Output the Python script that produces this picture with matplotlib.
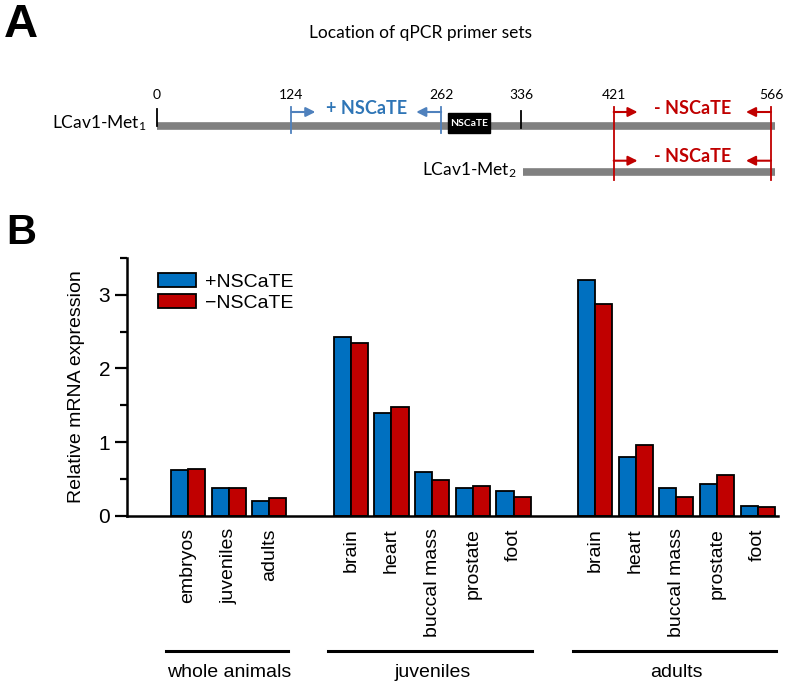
import matplotlib
matplotlib.use("Agg")
import matplotlib.pyplot as plt
from matplotlib.patches import Patch, Rectangle

# ---- panel B data ----
groups = ["whole animals", "juveniles", "adults"]
tissues = [
    ["embryos", "juveniles", "adults"],
    ["brain", "heart", "buccal mass", "prostate", "foot"],
    ["brain", "heart", "buccal mass", "prostate", "foot"],
]
plus_nscate = [
    [0.62, 0.38, 0.20],
    [2.43, 1.40, 0.60, 0.37, 0.34],
    [3.20, 0.80, 0.38, 0.43, 0.13],
]
minus_nscate = [
    [0.64, 0.37, 0.24],
    [2.35, 1.47, 0.48, 0.41, 0.26],
    [2.87, 0.96, 0.26, 0.55, 0.12],
]

# ---- panel A data (base pairs) ----
site_labels = [0, 124, 262, 336, 421, 566]
met1_span = (0, 570)
met2_span = (337, 570)
nscate_box = (268, 307)
plus_primers = (124, 262)
minus_primers = (421, 566)

BLUE = "#0070C0"
RED = "#C00000"
PBLUE = "#4F81BD"
TBLUE = "#2E75B6"
GRAY = "#808080"

plt.rcParams["font.family"] = ["Liberation Sans", "DejaVu Sans"]
plt.rcParams["mathtext.fontset"] = "custom"
plt.rcParams["mathtext.rm"] = "Lato"
plt.rcParams["mathtext.default"] = "regular"

fig = plt.figure(figsize=(7.88, 6.88), dpi=100)

# ================= panel A =================
axA = fig.add_axes([0, 1 - 200 / 688, 1, 200 / 688])
axA.set_xlim(-144.7, 581.7)
axA.set_ylim(200, 0)
axA.axis("off")

row1, row2 = 125.7, 171.7
lato = ["Lato", "DejaVu Sans"]

axA.plot(met1_span, [row1, row1], color=GRAY, lw=5.5, solid_capstyle="butt")
axA.plot(met2_span, [row2, row2], color=GRAY, lw=5.5, solid_capstyle="butt")
axA.plot([0, 0], [109, row1], color="black", lw=1.3)
axA.plot([336, 336], [111, 128], color="black", lw=1.3)

axA.add_patch(Rectangle((nscate_box[0], 113), nscate_box[1] - nscate_box[0], 20,
                        color="black", zorder=3))
axA.text(sum(nscate_box) / 2, 123.5, "NSCaTE", color="white", fontsize=7.5,
         fontweight="bold", ha="center", va="center", family=lato, zorder=4)

for s in site_labels:
    axA.text(s, 95, str(s), fontsize=10, ha="center", va="center", family=lato)


def primer_pair(ax, span, ytop, ybot, rows_y, color, lcolor, label):
    a, b = span
    for x in (a, b):
        ax.plot([x, x], [ytop, ybot], color=lcolor, lw=1.3)
    for y in rows_y:
        ax.annotate("", xy=(a + 22, y), xytext=(a, y),
                    arrowprops=dict(arrowstyle="-|>", color=lcolor, lw=1.5,
                                    mutation_scale=14, shrinkA=0, shrinkB=0))
        ax.annotate("", xy=(b - 23, y), xytext=(b, y),
                    arrowprops=dict(arrowstyle="-|>", color=lcolor, lw=1.5,
                                    mutation_scale=14, shrinkA=0, shrinkB=0))
        ax.text((a + b) / 2, y - 4, label, color=color, fontsize=13,
                fontweight="bold", ha="center", va="center", family=lato)


primer_pair(axA, plus_primers, 107, 133, [112], TBLUE, PBLUE, "+ NSCaTE")
primer_pair(axA, minus_primers, 107, 180, [112, 160.7], RED, RED, "- NSCaTE")

axA.text(-9.2, 123, "LCav1-Met$_1$", fontsize=12.5, ha="right", va="center", family=lato)
axA.text(331.9, 170, "LCav1-Met$_2$", fontsize=12.5, ha="right", va="center", family=lato)

fig.text(420 / 788, 1 - 33 / 688, "Location of qPCR primer sets", fontsize=12.5,
         ha="center", va="center", family=lato)
fig.text(4 / 788, 1 - 25 / 688, "A", fontsize=34, fontweight="bold", ha="left", va="center")
fig.text(6 / 788, 1 - 233 / 688, "B", fontsize=30, fontweight="bold", ha="left", va="center")

# ================= panel B =================
ax = fig.add_axes([127 / 788, 1 - 515.7 / 688, 651 / 788, 257.7 / 688])

positions, names, plus_vals, minus_vals, spans = [], [], [], [], []
slot = 0
for gi, grp in enumerate(groups):
    start = slot
    for t, p, m in zip(tissues[gi], plus_nscate[gi], minus_nscate[gi]):
        positions.append(slot)
        names.append(t)
        plus_vals.append(p)
        minus_vals.append(m)
        slot += 1
    spans.append((start, slot - 1))
    slot += 1

w = 0.42
ax.bar([p - w / 2 for p in positions], plus_vals, width=w, color=BLUE,
       edgecolor="black", linewidth=1.3)
ax.bar([p + w / 2 for p in positions], minus_vals, width=w, color=RED,
       edgecolor="black", linewidth=1.3)

ax.set_xlim(-1.5, 14.5)
ax.set_ylim(0, 3.5)
ax.spines["top"].set_visible(False)
ax.spines["right"].set_visible(False)
ax.spines["left"].set_linewidth(1.8)
ax.spines["bottom"].set_linewidth(1.8)

ax.set_yticks([0, 1, 2, 3])
ax.set_yticks([0.5, 1.5, 2.5, 3.5], minor=True)
ax.tick_params(axis="y", which="major", length=9, width=1.6, labelsize=15, pad=3)
ax.tick_params(axis="y", which="minor", length=5, width=1.6)
ax.set_xticks(positions, names, rotation=90, fontsize=14)
ax.tick_params(axis="x", length=0, pad=9)
ax.set_ylabel("Relative mRNA expression", fontsize=14, labelpad=10)

tr = ax.get_xaxis_transform()
for gi, (a, b) in enumerate(spans):
    ax.plot([a - 0.55, b + 0.45], [-0.524, -0.524], color="black", lw=2.2,
            transform=tr, clip_on=False)
    ax.text((a + b) / 2, -0.61, groups[gi], fontsize=14, ha="center", va="center",
            transform=tr)

handles = [Patch(facecolor=BLUE, edgecolor="black", linewidth=1.3),
           Patch(facecolor=RED, edgecolor="black", linewidth=1.3)]
ax.legend(handles, ["+NSCaTE", "\u2212NSCaTE"], loc="upper left",
          bbox_to_anchor=(0.047, 0.94), frameon=False, fontsize=14,
          handlelength=2.0, handleheight=0.7, handletextpad=0.45,
          labelspacing=0.15, borderpad=0, borderaxespad=0)

fig.savefig("out.png", dpi=100)
